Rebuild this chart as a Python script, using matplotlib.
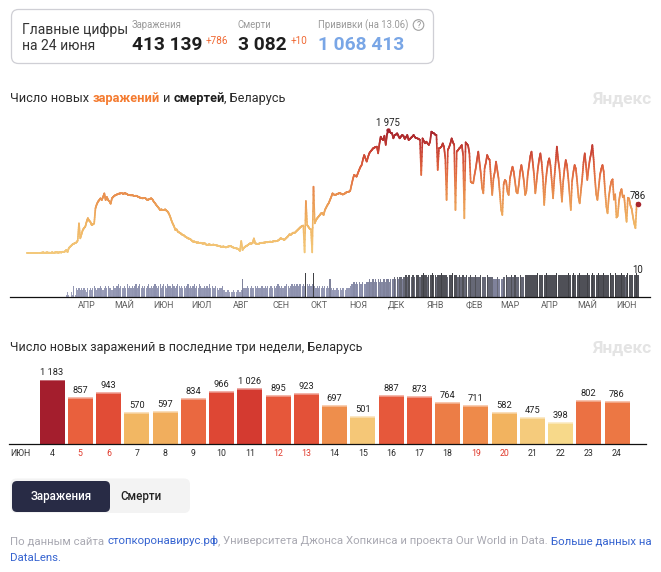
import numpy as np
import pandas as pd
import matplotlib
matplotlib.use("Agg")
import matplotlib.pyplot as plt
import matplotlib.dates as mdates
import matplotlib.transforms as mtrans
from matplotlib.collections import LineCollection
from matplotlib.colors import LinearSegmentedColormap, to_rgb
from matplotlib.patches import FancyBboxPatch, Circle

# ---------------- DATA ----------------
report_date = "24 июня"
total_cases = 413139
new_cases = 786
total_deaths = 3082
new_deaths = 10
vaccinated = 1068413
vacc_date = "13.06"

cases_start = "2020-02-28"
cases_2020_02 = [1, 0]
cases_2020_03 = [0, 0, 2, 0, 0, 1, 0, 0, 0, 3, 6, 9, 0, 6, 9, 3, 5, 5, 10, 0, 8, 11, 9, 6, 14, 8, 20, 18, 25, 48, 15]
cases_2020_04 = [80, 100, 120, 140, 150, 160, 170, 200, 476, 235, 300, 370, 400, 425, 500, 560, 520, 500, 450, 460,
                 476, 717, 780, 824, 850, 878, 850, 900, 958, 850]
cases_2020_05 = [900, 850, 830, 790, 878, 900, 920, 930, 940, 950, 955, 958, 958, 950, 960, 955, 945, 930, 935, 925,
                 930, 920, 915, 920, 910, 900, 890, 885, 878, 880, 885]
cases_2020_06 = [870, 850, 860, 870, 878, 860, 824, 800, 770, 745, 720, 690, 700, 690, 690, 700, 680, 663, 630, 580,
                 520, 470, 430, 370, 380, 343, 330, 320, 300, 290]
cases_2020_07 = [280, 260, 250, 235, 230, 220, 200, 182, 185, 175, 166, 170, 160, 165, 155, 150, 160, 140, 128, 135,
                 140, 125, 130, 135, 128, 125, 120, 115, 110, 101, 100]
cases_2020_08 = [105, 95, 90, 100, 105, 110, 108, 95, 85, 80, 75, 70, 60, 32, 193, 48, 80, 101, 110, 125,
                 140, 155, 150, 160, 235, 155, 150, 145, 150, 160, 165]
cases_2020_09 = [165, 166, 170, 175, 172, 180, 182, 178, 185, 190, 188, 193, 200, 215, 236, 230, 220, 210, 230, 250,
                 270, 300, 290, 310, 327, 320, 340, 360, 380, 400]
cases_2020_10 = [420, 434, 440, 10, 835, 450, 420, 390, 380, 10, 1065, 476, 530, 560, 584, 610, 637, 640, 610, 690,
                 730, 770, 800, 851, 900, 958, 940, 931, 940, 950, 958]
cases_2020_11 = [960, 950, 940, 945, 960, 975, 980, 985, 1000, 1092, 1180, 1253, 1240, 1226, 1280, 1333, 1380, 1413,
                 1500, 1574, 1520, 1467, 1540, 1600, 1630, 1654, 1680, 1692, 1700, 1708]
cases_2020_12 = [1600, 1750, 1868, 1830, 1815, 1884, 1735, 1900, 1975, 1948, 1930, 1922, 1841, 1895, 1900, 1922,
                 1880, 1841, 1870, 1895, 1880, 1831, 1860, 1895, 1815, 1830, 1852, 1870, 1895, 1860, 1841]
cases_2021_01 = [1841, 1830, 1815, 1253, 1841, 1800, 1761, 1788, 1760, 1734, 1790, 1949, 1930, 1922, 1900, 1895,
                 1333, 1681, 1690, 1708, 1761, 1700, 1520, 851, 1654, 1700, 1760, 1841, 1780, 1734, 690]
cases_2021_02 = [1628, 1650, 1681, 1700, 1734, 1574, 557, 1777, 1750, 1724, 1600, 1146, 1130, 1119, 1250, 1360,
                 1500, 1628, 1450, 1280, 1050, 958, 1360, 1450, 1574, 1520, 1493, 1200]
cases_2021_03 = [931, 1199, 1300, 1467, 1333, 1200, 958, 700, 610, 1100, 1172, 1146, 985, 931, 1199, 1300, 1386,
                 1300, 1146, 985, 958, 1100, 1300, 1413, 1300, 1150, 931, 1000, 1250, 1400, 1550]
cases_2021_04 = [1628, 1450, 1250, 958, 1150, 1350, 1500, 1600, 1450, 1200, 771, 1100, 1300, 1450, 1520, 1400,
                 1150, 878, 1200, 1450, 1708, 1500, 1350, 1100, 824, 1150, 1350, 1493, 1400, 1200]
cases_2021_05 = [950, 690, 1150, 1300, 1413, 1350, 1150, 900, 797, 1000, 1200, 1450, 1600, 1400, 1172, 1360, 1500,
                 1600, 1734, 1500, 1200, 950, 851, 1050, 1250, 1350, 1413, 1300, 1000, 750, 637]
cases_2021_06 = [900, 1050, 1150, 1183, 857, 943, 570, 597, 834, 966, 1026, 895, 923, 697, 501, 887, 873, 764, 711,
                 582, 475, 398, 802, 786]

deaths_start = "2020-03-30"
deaths_2020_03 = [1, 2]
deaths_2020_04 = [1, 0, 2, 1, 5, 1, 4, 3, 4, 3, 4, 3, 4, 3, 2, 4, 3, 4, 3, 4, 5, 4, 3, 4, 4, 5, 4, 3, 4, 5]
deaths_2020_05 = [4, 5, 4, 4, 3, 5, 4, 4, 5, 6, 4, 5, 4, 4, 5, 4, 6, 4, 5, 4, 5, 4, 5, 6, 4, 5, 6, 4, 5, 4, 5]
deaths_2020_06 = [4, 5, 6, 4, 5, 4, 5, 6, 5, 4, 5, 6, 4, 5, 6, 5, 4, 6, 5, 5, 4, 6, 5, 4, 5, 6, 5, 4, 5, 4]
deaths_2020_07 = [5, 4, 5, 6, 4, 5, 4, 5, 6, 4, 5, 4, 6, 5, 4, 4, 5, 4, 5, 4, 6, 4, 5, 4, 4, 5, 4, 3, 4, 4, 5]
deaths_2020_08 = [3, 3, 2, 3, 3, 2, 2, 2, 3, 2, 2, 3, 3, 2, 3, 8, 4, 4, 4, 5, 4, 4, 5, 4, 4, 5, 4, 5, 4, 4, 5]
deaths_2020_09 = [5, 4, 5, 4, 5, 4, 5, 5, 4, 5, 4, 5, 6, 5, 4, 5, 4, 5, 5, 6, 5, 4, 5, 6, 5, 6, 5, 6, 5, 6]
deaths_2020_10 = [6, 5, 6, 5, 11, 6, 5, 6, 5, 6, 11, 5, 4, 5, 4, 5, 4, 5, 4, 5, 4, 5, 4, 8, 4, 3, 4, 3, 4, 4, 3]
deaths_2020_11 = [4, 3, 4, 4, 3, 4, 4, 4, 5, 6, 6, 7, 6, 7, 6, 7, 6, 6, 7, 6, 6, 7, 7, 8, 7, 7, 8, 7, 8, 7]
deaths_2020_12 = [8, 7, 8, 7, 8, 8, 7, 8, 8, 7, 8, 8, 8, 9, 8, 9, 8, 9, 9, 8, 9, 9, 10, 9, 10, 10, 9, 10, 10, 9, 10]
deaths_2021_01 = [10, 10, 9, 10, 10, 11, 10, 10, 9, 10, 10, 10, 11, 10, 10, 9, 10, 10, 10, 11, 10, 10, 10, 10, 9, 10,
                  10, 10, 11, 10, 10]
deaths_2021_02 = [10, 9, 10, 9, 9, 10, 9, 9, 10, 9, 9, 10, 9, 9, 9, 10, 9, 9, 9, 10, 9, 9, 9, 9, 10, 9, 9, 9]
deaths_2021_03 = [9, 8, 8, 8, 9, 8, 8, 8, 8, 9, 9, 10, 9, 9, 9, 10, 9, 9, 10, 9, 9, 9, 10, 9, 9, 9, 10, 10, 10, 10, 10]
deaths_2021_04 = [10, 10, 10, 10, 10, 11, 10, 10, 10, 10, 10, 10, 11, 10, 10, 10, 10, 10, 10, 10, 11, 10, 10, 10, 10,
                  10, 10, 10, 10, 11]
deaths_2021_05 = [10, 10, 10, 11, 10, 10, 10, 10, 11, 10, 10, 10, 10, 10, 11, 10, 10, 10, 11, 10, 10, 10, 10, 11, 10,
                  10, 10, 11, 10, 10, 10]
deaths_2021_06 = [10, 11, 10, 10, 10, 11, 10, 10, 10, 10, 11, 10, 10, 9, 10, 11, 10, 10, 10, 10, 10, 10, 11, 10]

month_labels = ["АПР", "МАЙ", "ИЮН", "ИЮЛ", "АВГ", "СЕН", "ОКТ", "НОЯ", "ДЕК",
                "ЯНВ", "ФЕВ", "МАР", "АПР", "МАЙ", "ИЮН"]
first_label_month = "2020-04-01"

recent_start = "2021-06-04"
recent_month = "ИЮН"
recent_days = [4, 5, 6, 7, 8, 9, 10, 11, 12, 13, 14, 15, 16, 17, 18, 19, 20, 21, 22, 23, 24]
recent_cases = [1183, 857, 943, 570, 597, 834, 966, 1026, 895, 923, 697, 501, 887, 873, 764, 711, 582, 475, 398,
                802, 786]

cases = np.array(cases_2020_02 + cases_2020_03 + cases_2020_04 + cases_2020_05 + cases_2020_06 + cases_2020_07 +
                 cases_2020_08 + cases_2020_09 + cases_2020_10 + cases_2020_11 + cases_2020_12 + cases_2021_01 +
                 cases_2021_02 + cases_2021_03 + cases_2021_04 + cases_2021_05 + cases_2021_06, dtype=float)
deaths = np.array(deaths_2020_03 + deaths_2020_04 + deaths_2020_05 + deaths_2020_06 + deaths_2020_07 +
                  deaths_2020_08 + deaths_2020_09 + deaths_2020_10 + deaths_2020_11 + deaths_2020_12 +
                  deaths_2021_01 + deaths_2021_02 + deaths_2021_03 + deaths_2021_04 + deaths_2021_05 +
                  deaths_2021_06, dtype=float)


def fmt(v):
    return f"{int(v):,}".replace(",", " ")


# ---------------- FIGURE ----------------
plt.rcParams['font.family'] = ['Roboto', 'DejaVu Sans']
W, H = 661, 572
fig = plt.figure(figsize=(W / 100, H / 100), dpi=100)
fig.patch.set_facecolor('white')
bg = fig.add_axes([0, 0, 1, 1], zorder=0)
bg.set_xlim(0, W)
bg.set_ylim(H, 0)
bg.axis('off')
R = fig.canvas.get_renderer()
PT = 0.72  # px -> pt

TXT = '#2b2b2b'
GRAY = '#9a9a9a'
ORANGE = '#f47b30'
RED_PLUS = '#f06a35'
BLUE = '#3563d0'


def pxa(x0, y0, x1, y1, z=1):
    ax = fig.add_axes([x0 / W, 1 - y1 / H, (x1 - x0) / W, (y1 - y0) / H], zorder=z)
    ax.patch.set_alpha(0)
    return ax


def twidth(t):
    return t.get_window_extent(renderer=R).width


def space_w(size, wt):
    a = bg.text(0, 0, 'n n', fontsize=size, fontweight=wt)
    b = bg.text(0, 0, 'nn', fontsize=size, fontweight=wt)
    w = twidth(a) - twidth(b)
    a.remove()
    b.remove()
    return w


def runs(x, y, parts, size, draw=True):
    """parts: (text, color, weight, space_before)"""
    x0 = x
    made = []
    for txt, color, wt, gap in parts:
        if gap:
            x += space_w(size, wt)
        t = bg.text(x, y, txt, fontsize=size, color=color, fontweight=wt, va='baseline', ha='left')
        x += twidth(t)
        made.append(t)
    if not draw:
        for t in made:
            t.remove()
    return x - x0


def fit_size(parts, target, size0=9):
    w = runs(0, 0, parts, size0, draw=False)
    return size0 * target / w


# ---------------- HEADER ----------------
bg.add_patch(FancyBboxPatch((11.5, 9.5), 422, 54, boxstyle="round,pad=0,rounding_size=7",
                            fc='white', ec='#cfcfd5', lw=0.9))
bg.text(22, 34, "Главные цифры", fontsize=10, color='#333333', va='baseline')
bg.text(22, 49.5, f"на {report_date}", fontsize=10, color='#333333', va='baseline')

vacc_parts = [(f"Прививки (на {vacc_date})", GRAY, 'normal', False)]
HL = fit_size(vacc_parts, 91)
HN = 13.8
bg.text(132, 28.5, "Заражения", fontsize=HL, color=GRAY, va='baseline')
w = runs(131.5, 50, [(fmt(total_cases), '#1e1e1e', 'bold', False)], HN)
bg.text(131.5 + w + 3.5, 44.5, f"+{new_cases}", fontsize=7.2, color=RED_PLUS, va='baseline')

bg.text(238, 28.5, "Смерти", fontsize=HL, color=GRAY, va='baseline')
w = runs(238, 50, [(fmt(total_deaths), '#1e1e1e', 'bold', False)], HN)
bg.text(238 + w + 3.5, 44.5, f"+{new_deaths}", fontsize=7.2, color=RED_PLUS, va='baseline')

runs(318, 28.5, vacc_parts, HL)
bg.add_patch(Circle((418.5, 25), 5.3, fc='none', ec='#a0a0a0', lw=0.8))
bg.text(418.5, 25.3, "?", fontsize=6.3, color='#909090', ha='center', va='center')
runs(318, 50, [(fmt(vaccinated), '#79a6e6', 'bold', False)], HN)

# ---------------- TITLES ----------------
title2_parts = [("Число новых заражений в последние три недели, Беларусь", TXT, 'normal', False)]
TS = fit_size(title2_parts, 352)
title1_parts = [("Число новых", TXT, 'normal', False), ("заражений", ORANGE, 'bold', True),
                ("и", TXT, 'normal', True), ("смертей", '#1e1e1e', 'bold', True),
                (", Беларусь", TXT, 'normal', False)]
TS1 = fit_size(title1_parts, 275)
TS1 = min(TS1, TS * 1.03)
runs(10, 101.7, title1_parts, TS1)
runs(10, 350.5, title2_parts, TS)
for yb in (104, 352.5):
    bg.text(651, yb, "Яндекс", fontsize=12.5, fontweight='bold', color='#e4e4e4', ha='right', va='baseline')

# ---------------- CHART 1 ----------------
X0, X1 = 10, 650
XS, XE = 27, 638
c_dates = pd.date_range(cases_start, periods=len(cases))
d_dates = pd.date_range(deaths_start, periods=len(deaths))
cn = mdates.date2num(c_dates)
dn = mdates.date2num(d_dates)
ppd = (XE - XS) / (cn[-1] - cn[0])
xlim = (cn[0] - (XS - X0) / ppd, cn[-1] + (X1 - XE) / ppd)

ax1 = pxa(X0, 130, X1, 253, z=3)
ax1.set_xlim(*xlim)
ax1.set_ylim(0, cases.max())
ax1.axis('off')

cmap_line = LinearSegmentedColormap.from_list('l', [
    (0.0, '#f3c87a'), (0.25, '#f0b463'), (0.48, '#e98f4f'), (0.68, '#e0663f'),
    (0.84, '#c94234'), (1.0, '#a4222b')])
# gradient along each straight segment (styling only)
nsub = 8
segs, vals = [], []
for i in range(len(cn) - 1):
    t = np.linspace(0, 1, nsub + 1)
    xx = cn[i] + (cn[i + 1] - cn[i]) * t
    yy = cases[i] + (cases[i + 1] - cases[i]) * t
    for k in range(nsub):
        segs.append([(xx[k], yy[k]), (xx[k + 1], yy[k + 1])])
        vals.append((yy[k] + yy[k + 1]) / 2)
lc = LineCollection(segs, colors=cmap_line(np.array(vals) / cases.max()), linewidths=1.2,
                    capstyle='round', joinstyle='round', clip_on=False)
ax1.add_collection(lc)
imax = int(np.argmax(cases))
ax1.scatter([cn[imax]], [cases[imax]], s=10, color='#a3202b', zorder=5, clip_on=False, linewidths=0)
ax1.scatter([cn[-1]], [cases[-1]], s=16, color='#a8262e', zorder=5, clip_on=False, linewidths=0)
ax1.annotate(fmt(cases[imax]), (cn[imax], cases[imax]), xytext=(0, 3.5 * PT), textcoords='offset points',
             ha='center', va='baseline', fontsize=6.9, color='#222')
ax1.annotate(fmt(cases[-1]), (cn[-1], cases[-1]), xytext=(0, 5 * PT), textcoords='offset points',
             ha='center', va='baseline', fontsize=6.9, color='#222')

axd = pxa(X0, 275, X1, 296.7, z=2)
axd.set_xlim(*xlim)
axd.set_ylim(0, 10)
cmap_d = LinearSegmentedColormap.from_list('d', [
    (0.0, '#a6a9c2'), (0.55, '#8d91ae'), (0.73, '#7f829b'), (0.82, '#666876'),
    (0.91, '#4f5057'), (1.0, '#404146')])
axd.bar(dn, deaths, width=0.9, color=cmap_d(deaths / 11), linewidth=0, clip_on=False)
axd.annotate(fmt(deaths[-1]), (dn[-1], deaths[-1]), xytext=(0, 2 * PT), textcoords='offset points',
             ha='center', va='baseline', fontsize=6.9, color='#222')
for s in ['top', 'left', 'right']:
    axd.spines[s].set_visible(False)
axd.spines['bottom'].set_color('#111')
axd.spines['bottom'].set_linewidth(0.9)
axd.set_xticks([])
axd.set_yticks([])
trans_d = mtrans.blended_transform_factory(axd.transData, axd.transAxes)
ticks = mdates.date2num(pd.date_range(first_label_month, periods=len(month_labels), freq='MS')
                        + pd.Timedelta(days=14))
for tx, lab in zip(ticks, month_labels):
    axd.text(tx, -(307.7 - 296.7) / 21.7, lab, transform=trans_d, ha='center', va='baseline',
             fontsize=6.4, color='#5f5f5f')

# ---------------- CHART 2 ----------------
B0, B1 = 52, 617
step = (B1 - B0) / (len(recent_cases) - 1)
ax2 = pxa(9, 380, 646, 444, z=2)
xs = np.arange(len(recent_cases))
ax2.set_xlim(-(B0 - 9) / step, xs[-1] + (646 - B1) / step)
rc = np.array(recent_cases, dtype=float)
ax2.set_ylim(0, rc.max() * 64 / 63.8)
cmap_r = LinearSegmentedColormap.from_list('r', [
    (0.0, '#f8e49a'), (400 / 1200, '#f7d98a'), (500 / 1200, '#f5c777'), (580 / 1200, '#f2b460'),
    (700 / 1200, '#ee8d4b'), (780 / 1200, '#ec7945'), (870 / 1200, '#e85c3c'), (950 / 1200, '#e14b36'),
    (1026 / 1200, '#d43a30'), (1183 / 1200, '#a51e2d'), (1.0, '#a01c2c')])
bw = 25 / step
cols = cmap_r(rc / 1200)
ax2.bar(xs, rc, width=bw, color=cols, linewidth=0, zorder=2)
light = [tuple(0.55 * np.array(to_rgb(c[:3])) + 0.45) for c in cols]
ax2.hlines(rc, xs - bw / 2, xs + bw / 2, colors=light, linewidth=1.1, zorder=3)
for x, v in zip(xs, rc):
    ax2.annotate(fmt(v), (x, v), xytext=(0, 5 * PT), textcoords='offset points', ha='center',
                 va='baseline', fontsize=6.7, color='#222')
for s in ['top', 'left', 'right']:
    ax2.spines[s].set_visible(False)
ax2.spines['bottom'].set_color('#111')
ax2.spines['bottom'].set_linewidth(0.9)
ax2.set_xticks([])
ax2.set_yticks([])
trans2 = mtrans.blended_transform_factory(ax2.transData, ax2.transAxes)
rdates = pd.date_range(recent_start, periods=len(recent_days))
for x, d, dt in zip(xs, recent_days, rdates):
    col = '#e03a2c' if dt.dayofweek >= 5 else '#2b2b2b'
    ax2.text(x, -(455.5 - 444) / 64, str(d), transform=trans2, ha='center', va='baseline',
             fontsize=6.3, color=col)
bg.text(20, 455.5, recent_month, ha='center', va='baseline', fontsize=6.3, color='#333')

# ---------------- BUTTONS ----------------
bg.add_patch(FancyBboxPatch((10.5, 478.5), 179.5, 34.5, boxstyle="round,pad=0,rounding_size=6",
                            fc='#f3f3f3', ec='none'))
bg.add_patch(FancyBboxPatch((12, 481), 98, 31, boxstyle="round,pad=0,rounding_size=5",
                            fc='#282b45', ec='none'))
bg.text(61, 500, "Заражения", fontsize=8.3, color='white', ha='center', va='baseline', fontweight='medium')
bg.text(141, 500, "Смерти", fontsize=8.3, color='#222', ha='center', va='baseline', fontweight='medium')

# ---------------- FOOTER ----------------
FG = '#a9a9b2'
line1 = [("По данным сайта", FG, 'normal', False), ("стопкоронавирус.рф", BLUE, 'normal', True),
         (",", FG, 'normal', False), ("Университета Джонса Хопкинса и проекта Our World in Data.", FG, 'normal', True),
         ("Больше данных на", BLUE, 'normal', True)]
FS = fit_size(line1, 640)
runs(10, 544.5, line1, FS)
runs(10, 561, [("DataLens.", BLUE, 'normal', False)], FS)

fig.savefig("out.png", dpi=100, facecolor='white')
